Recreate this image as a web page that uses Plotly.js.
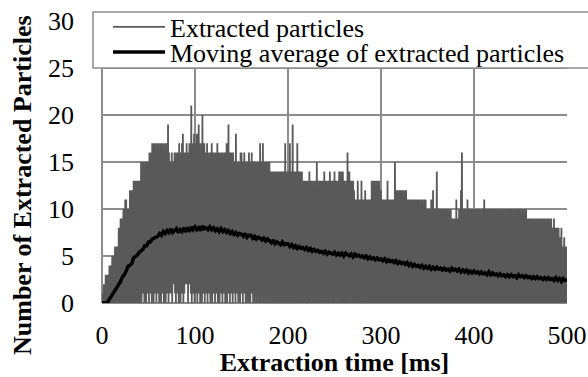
<!DOCTYPE html>
<html><head><meta charset="utf-8">
<script src="https://cdn.plot.ly/plotly-3.0.1.min.js"></script>
<style>html,body{margin:0;padding:0;background:#fff}#chart{width:588px;height:377px}</style>
</head><body><div id="chart"></div>
<script>
const seriesNames = ['Extracted particles', 'Moving average of extracted particles'];
const sampleStepMs = 1;
const maStepMs = 2;
const xTicks = [0, 100, 200, 300, 400, 500];
const yTicks = [0, 5, 10, 15, 20, 25, 30];
const xTitle = 'Extraction time [ms]';
const yTitle = 'Number of Extracted Particles';

// per-ms upper envelope of extracted particle counts
const peakCounts = [
1,1,2,2,3,3,3,3,4,4, 4,5,5,5,6,5,6,6,8,8, 9,9,9,10,10,11,11,10,10,10, 12,12,11,12,13,13,13,13,13,13,
13,13,15,15,14,15,14,15,15,15, 15,16,15,16,17,16,17,17,17,16, 17,17,16,17,17,17,16,17,16,17, 17,19,16,15,15,16,15,15,16,15,
16,16,16,17,16,16,17,18,16,16, 16,17,16,16,17,16,21,17,16,18, 16,17,18,16,19,17,16,17,20,16, 17,16,16,17,16,15,16,16,17,16,
16,15,16,16,17,16,16,15,16,16, 16,15,16,16,17,16,19,16,16,16, 15,16,15,15,18,15,15,15,15,16, 16,15,15,16,15,15,15,15,16,15,
15,16,15,15,15,15,15,15,15,15, 17,15,15,17,15,15,15,15,15,15, 15,14,14,14,14,14,14,14,14,14, 14,14,14,14,14,14,14,17,14,14,
14,14,17,14,14,19,14,14,14,14, 17,14,14,14,13,14,13,13,13,13, 13,13,13,14,13,13,12,13,13,13, 13,15,13,12,13,13,13,13,13,14,
13,13,13,12,13,14,13,13,13,13, 14,13,13,12,13,14,14,14,13,14, 13,13,12,13,16,13,14,13,13,12, 13,12,11,11,11,13,11,11,11,13,
11,11,11,12,11,11,11,11,11,11, 13,12,13,13,12,13,13,12,13,12, 12,11,11,11,11,11,11,13,11,11, 11,11,11,11,11,15,11,12,12,12,
12,12,12,12,12,11,12,12,11,11, 11,11,11,11,11,11,11,11,11,11, 11,11,10,11,11,11,10,11,11,10, 10,10,10,10,11,10,12,10,10,10,
14,10,10,10,10,10,10,10,10,10, 10,10,10,9,10,10,9,9,9,9, 9,11,9,9,10,10,12,16,10,10, 10,10,10,11,10,10,10,10,10,10,
10,10,10,9,10,10,10,9,10,10, 10,11,10,10,9,10,10,10,10,9, 10,10,10,10,9,10,10,10,9,10, 10,9,10,10,10,9,10,10,10,10,
10,10,9,10,10,10,9,10,10,10, 10,9,10,10,9,10,10,9,9,9, 9,9,9,9,9,8,9,9,9,9, 9,8,9,9,9,9,9,9,8,9,
9,9,8,9,8,8,9,8,8,8, 8,8,7,6,8,6,6,7,6,6, 6
];

// per-ms lower envelope (minimum count between samples)
const troughCounts = [
0,0,0,0,0,0,0,0,0,0, 0,0,0,0,0,0,0,0,0,0, 0,0,0,0,0,0,0,0,0,0, 0,0,0,0,0,0,0,0,0,0,
0,1,0,1,1,0,1,0,1,1, 0,1,1,0,1,0,1,1,0,1, 1,0,1,0,1,1,0,1,0,1, 1,0,1,2,1,0,2,2,1,0,
1,1,0,1,0,1,1,0,1,2, 2,2,0,2,2,1,0,1,1,0, 1,2,0,1,1,0,1,0,1,1, 0,1,1,0,1,1,0,1,0,1,
1,0,1,1,0,1,0,2,1,0, 1,1,0,1,0,1,1,0,1,1, 0,2,1,0,1,1,0,1,0,1, 1,0,1,1,0,0,1,0,1,0,
1,1,0,1,0,1,0,0,1,0, 1,0,1,0,0,1,0,1,0,0, 1,0,1,0,0,1,0,0,1,0, 0,1,0,0,1,0,0,1,0,0,
1,0,0,1,0,0,0,1,0,0, 1,0,0,0,1,0,0,0,1,0, 0,1,0,0,0,1,0,0,0,0, 1,0,0,0,0,1,0,0,0,0,
0,1,0,0,0,0,1,0,0,0, 0,0,0,1,0,0,0,0,0,0, 0,0,0,0,0,0,0,0,1,0, 0,0,0,0,0,0,0,0,0,0,
0,1,0,0,0,0,0,0,0,0, 0,0,0,0,0,0,0,0,0,0, 0,0,0,0,0,0,0,0,0,0, 0,0,0,0,0,0,0,0,0,0,
0,0,0,0,0,0,0,0,0,0, 0,0,0,0,0,0,0,0,0,0, 0,0,0,0,0,0,0,0,0,0, 0,0,0,0,0,0,0,0,0,0,
0,0,0,0,0,0,0,0,0,0, 0,0,0,0,0,0,0,0,0,0, 0,0,0,0,0,0,0,0,0,0, 0,0,0,0,0,0,0,0,0,0,
0,0,0,0,0,0,0,0,0,0, 0,0,0,0,0,0,0,0,0,0, 0,0,0,0,0,0,0,0,0,0, 0,0,0,0,0,0,0,0,0,0,
0,0,0,0,0,0,0,0,0,0, 0,0,0,0,0,0,0,0,0,0, 0,0,0,0,0,0,0,0,0,0, 0,0,0,0,0,0,0,0,0,0,
0,0,0,0,0,0,0,0,0,0, 0,0,0,0,0,0,0,0,0,0, 0
];

// moving average, every 2 ms
const movingAverage = [
0,0,0,0.1,0.4,0.7,1.0,1.4,1.7,2.0, 2.3,2.8,3.0,3.4,3.9,4.0,4.2,4.8,4.9,5.1,
5.4,5.5,5.7,6.1,6.1,6.5,6.5,6.8,6.9,7.1, 7.1,7.4,7.2,7.6,7.4,7.7,7.5,7.9,7.5,7.7,
7.9,7.5,7.8,7.6,8.0,7.7,7.9,7.6,8.1,7.8, 8.1,7.8,8.0,7.7,8.2,7.9,8.0,7.8,8.1,7.8,
8.0,7.7,7.9,7.6,7.9,7.6,7.8,7.5,7.7,7.4, 7.6,7.3,7.5,7.2,7.4,7.3,7.1,7.4,7.0,7.2,
7.2,6.9,7.1,6.8,7.0,6.9,6.7,6.9,6.6,6.8, 6.6,6.4,6.7,6.3,6.5,6.4,6.2,6.5,6.2,6.3,
6.3,6.0,6.2,5.9,6.1,5.8,6.0,5.8,5.9,5.7, 5.9,5.6,5.8,5.5,5.7,5.5,5.6,5.4,5.5,5.3,
5.5,5.2,5.4,5.3,5.2,5.4,5.1,5.3,5.1,5.3, 5.0,5.3,5.1,5.0,5.2,4.9,5.2,5.0,5.1,4.9,
5.0,4.8,5.0,4.7,4.9,4.7,4.8,4.6,4.8,4.6, 4.7,4.5,4.7,4.4,4.6,4.4,4.5,4.3,4.5,4.2,
4.4,4.2,4.3,4.1,4.3,4.0,4.2,3.9,4.1,3.9, 4.0,3.8,4.0,3.7,3.9,3.7,3.9,3.6,3.8,3.6,
3.8,3.6,3.7,3.5,3.7,3.5,3.6,3.4,3.7,3.5, 3.6,3.4,3.6,3.3,3.5,3.3,3.5,3.2,3.4,3.2,
3.4,3.2,3.3,3.1,3.3,3.1,3.2,3.0,3.3,3.0, 3.2,3.0,3.1,2.9,3.1,2.9,3.0,2.8,3.0,2.8,
3.0,2.8,2.9,2.7,3.0,2.8,2.9,2.7,2.9,2.7, 2.8,2.6,2.8,2.6,2.8,2.6,2.7,2.5,2.7,2.5,
2.7,2.5,2.6,2.4,2.7,2.4,2.6,2.3,2.6,2.4, 2.5
];

const rawX = [], rawY = [];
for (let i = 0; i < peakCounts.length; i++) {
  rawX.push(i * sampleStepMs, i * sampleStepMs + 0.5);
  rawY.push(peakCounts[i], troughCounts[i]);
}
const maX = movingAverage.map((v, i) => i * maStepMs);

const FONT = 'Liberation Serif, Times New Roman, serif';
const GRID = '#8c8c8c';
const L = 102, R = 21, T = 21, B = 74, W = 588, H = 377;
const PW = W - L - R, PH = H - T - B;
const px = x => (x - L) / PW;
const py = y => 1 - (y - T) / PH;
const cx = x => x / W;
const cy = y => 1 - y / H;

const traces = [
  {x: rawX, y: rawY, type: 'scatter', mode: 'lines', name: seriesNames[0],
   line: {color: '#595959', width: 1.8}, legend: 'legend', hoverinfo: 'skip'},
  {x: maX, y: movingAverage, type: 'scatter', mode: 'lines', name: seriesNames[1],
   line: {color: '#000000', width: 3.5}, legend: 'legend2', hoverinfo: 'skip'}
];

const axisCommon = {
  showgrid: true, gridcolor: GRID, gridwidth: 1.5,
  zeroline: true, zerolinecolor: GRID, zerolinewidth: 1.5,
  showline: false, ticks: '', automargin: false, fixedrange: true,
  tickfont: {family: FONT, size: 26, color: '#000'}
};

const legendCommon = {xref: 'container', yref: 'container', xanchor: 'left', yanchor: 'middle',
  bgcolor: 'rgba(0,0,0,0)', borderwidth: 0, itemwidth: 52,
  font: {family: FONT, size: 26, color: '#000'}};

const layout = {
  width: W, height: H,
  margin: {l: L, r: R, t: T, b: B, pad: 0, autoexpand: false},
  paper_bgcolor: '#ffffff', plot_bgcolor: '#ffffff',
  font: {family: FONT, size: 26, color: '#000'},
  xaxis: Object.assign({}, axisCommon, {
    range: [0, 500], tickvals: xTicks, ticklabelstandoff: 14,
    title: {text: xTitle, font: {family: FONT, size: 26, weight: 'bold', color: '#000'}, standoff: 17}
  }),
  yaxis: Object.assign({}, axisCommon, {
    range: [0, 30], tickvals: yTicks, ticklabelstandoff: 27
  }),
  showlegend: true,
  legend: Object.assign({}, legendCommon, {x: cx(108), y: cy(27)}),
  legend2: Object.assign({}, legendCommon, {x: cx(108), y: cy(52)}),
  shapes: [{type: 'rect', xref: 'paper', yref: 'paper', layer: 'above',
    x0: px(93), x1: px(590), y0: py(68), y1: py(12),
    fillcolor: '#ffffff', line: {color: GRID, width: 1.5}}],
  annotations: [{text: yTitle, xref: 'paper', yref: 'paper', x: px(22), y: py(185),
    xanchor: 'center', yanchor: 'middle', textangle: -90, showarrow: false,
    font: {family: FONT, size: 26, weight: 'bold', color: '#000'}}]
};

Plotly.newPlot('chart', traces, layout, {staticPlot: true, displayModeBar: false});
</script></body></html>
